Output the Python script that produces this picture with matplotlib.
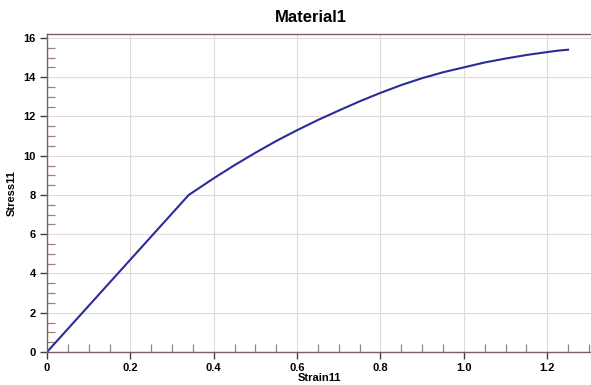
import matplotlib
matplotlib.use('Agg')
import matplotlib.pyplot as plt
from matplotlib.ticker import MultipleLocator

plt.rcParams['font.family'] = ['Liberation Sans', 'DejaVu Sans']

# stress-strain curve
strain = [0.0, 0.34, 0.40, 0.45, 0.50, 0.55, 0.60, 0.65, 0.70, 0.75, 0.80,
          0.85, 0.90, 0.95, 1.00, 1.05, 1.10, 1.15, 1.20, 1.225, 1.25]
stress = [0.0, 8.0, 8.85, 9.52, 10.15, 10.75, 11.3, 11.82, 12.3, 12.77, 13.2,
          13.6, 13.95, 14.25, 14.5, 14.75, 14.95, 15.13, 15.28, 15.35, 15.4]

title = 'Material1'
xlabel = 'Strain11'
ylabel = 'Stress11'

spine_col = '#7d5f5f'

fig = plt.figure(figsize=(5.91, 3.85), dpi=100)
ax = fig.add_axes([47 / 591, 33 / 385, 1 - 47 / 591, 318 / 385])

ax.plot(strain, stress, color='#2b2b9c', lw=1.5, solid_joinstyle='round')

ax.set_xlim(0, 1.305)
ax.set_ylim(0, 16.2)

ax.xaxis.set_major_locator(MultipleLocator(0.2))
ax.xaxis.set_minor_locator(MultipleLocator(0.05))
ax.yaxis.set_major_locator(MultipleLocator(2))
ax.yaxis.set_minor_locator(MultipleLocator(0.5))
ax.xaxis.set_major_formatter(plt.FuncFormatter(lambda v, p: '0' if v == 0 else f'{v:.1f}'))

ax.grid(True, which='major', color='#e2dada', lw=0.8)
ax.set_axisbelow(True)

for s in ['left', 'bottom', 'top']:
    ax.spines[s].set_color(spine_col)
    ax.spines[s].set_linewidth(1.0)
ax.spines['right'].set_visible(False)

ax.tick_params(which='major', direction='out', length=5, width=1, color='#4a3a3a',
               labelsize=8, pad=3)
ax.tick_params(which='minor', direction='in', length=6, width=0.9, color='#9a8080')
for lab in ax.get_xticklabels() + ax.get_yticklabels():
    lab.set_fontweight('bold')

ax.set_xlabel(xlabel, fontsize=8, fontweight='bold', labelpad=0)
ax.set_ylabel(ylabel, fontsize=8, fontweight='bold', va='center')
ax.yaxis.set_label_coords(-35 / 544, 0.5)

fig.text(311 / 591, 1 - 17 / 385, title, fontsize=12, fontweight='bold',
         ha='center', va='center')

fig.savefig('out.png', dpi=100)
